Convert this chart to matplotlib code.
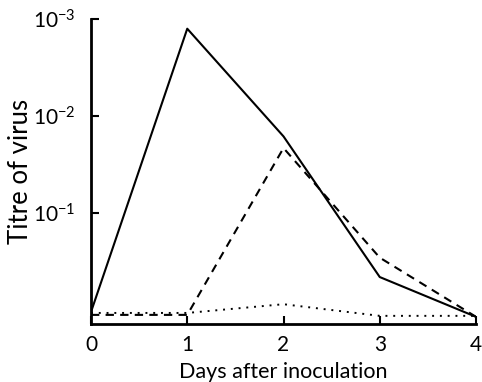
import matplotlib
matplotlib.use("Agg")
import matplotlib.pyplot as plt

plt.rcParams["font.family"] = ["Lato", "DejaVu Sans"]
plt.rcParams["mathtext.fontset"] = "custom"
plt.rcParams["mathtext.rm"] = "Lato"
plt.rcParams["mathtext.it"] = "Lato"

# y values are -log10(titre); 0 = undiluted
days = [0, 1, 2, 3, 4]
solid = [-0.02, 2.90, 1.79, 0.34, -0.07]
dashed = [-0.05, -0.05, 1.67, 0.54, -0.07]
dotted = [-0.03, -0.03, 0.06, -0.06, -0.06]

ytick_pos = [1, 2, 3]
ytick_lab = [r"$10^{-1}$", r"$10^{-2}$", r"$10^{-3}$"]

fig = plt.figure(figsize=(4.82, 3.82), dpi=100)
ax = fig.add_axes([91 / 482, 1 - 324 / 382, 385 / 482, 305 / 382])

ax.plot(days, solid, color="black", linewidth=1.5, linestyle="-")
ax.plot(days, dashed, color="black", linewidth=1.5, linestyle=(0, (4, 3)))
ax.plot(days, dotted, color="black", linewidth=1.4, linestyle=(0, (1, 3)))

ax.set_xlim(0, 4)
ax.set_ylim(-0.144, 3.0)
ax.set_xticks(days)
ax.set_yticks(ytick_pos)
ax.set_yticklabels(ytick_lab)
ax.tick_params(direction="in", length=6, width=1.5, labelsize=15)
ax.tick_params(axis="x", pad=8)
ax.tick_params(axis="y", pad=11)

for s in ["top", "right"]:
    ax.spines[s].set_visible(False)
for s in ["left", "bottom"]:
    ax.spines[s].set_linewidth(2)

ax.set_xlabel("Days after inoculation", fontsize=15.5, labelpad=5)
ax.set_ylabel("Titre of virus", fontsize=18.5, labelpad=0)

fig.savefig("out.png", dpi=100)
